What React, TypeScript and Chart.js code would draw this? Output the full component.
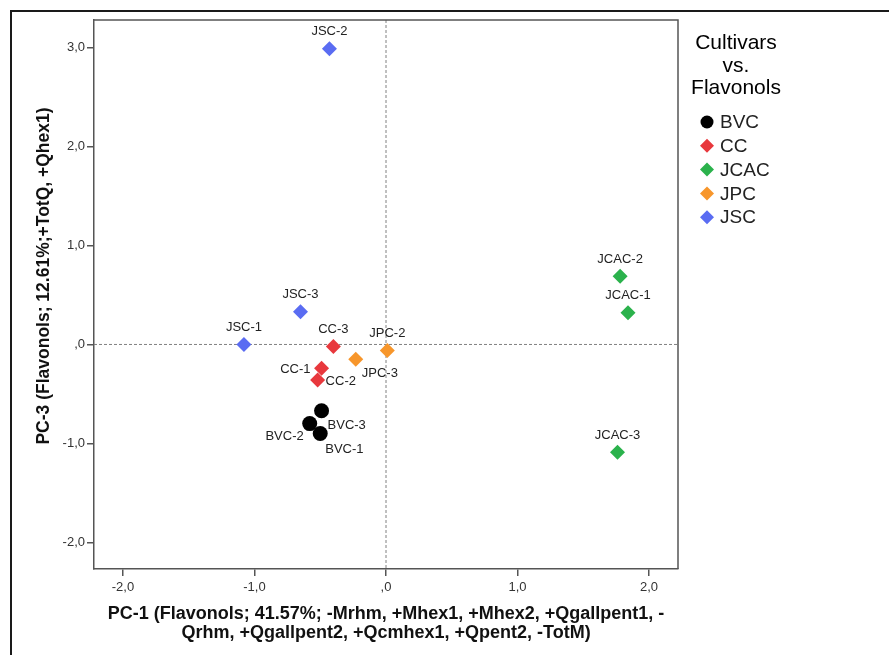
import React, { useEffect, useRef } from 'react';
import { Chart, registerables } from 'chart.js';

Chart.register(...registerables);

// ---- data ----
const cultivars = ['BVC', 'CC', 'JCAC', 'JPC', 'JSC'];

const bvcNames = ['BVC-1', 'BVC-2', 'BVC-3'];
const bvcPC1 = [-0.5, -0.58, -0.49];
const bvcPC3 = [-0.9, -0.8, -0.67];

const ccNames = ['CC-1', 'CC-2', 'CC-3'];
const ccPC1 = [-0.49, -0.52, -0.4];
const ccPC3 = [-0.24, -0.36, -0.02];

const jcacNames = ['JCAC-1', 'JCAC-2', 'JCAC-3'];
const jcacPC1 = [1.84, 1.78, 1.76];
const jcacPC3 = [0.32, 0.69, -1.09];

const jpcNames = ['JPC-2', 'JPC-3'];
const jpcPC1 = [0.01, -0.23];
const jpcPC3 = [-0.06, -0.15];

const jscNames = ['JSC-1', 'JSC-2', 'JSC-3'];
const jscPC1 = [-1.08, -0.43, -0.65];
const jscPC3 = [0.0, 2.99, 0.33];

const xTickValues = [-2, -1, 0, 1, 2];
const yTickValues = [-2, -1, 0, 1, 2, 3];

const xTitle = [
  'PC-1 (Flavonols; 41.57%; -Mrhm, +Mhex1, +Mhex2, +Qgallpent1, -',
  'Qrhm, +Qgallpent2, +Qcmhex1, +Qpent2, -TotM)',
];
const yTitle = 'PC-3 (Flavonols; 12.61%;+TotQ, +Qhex1)';
const legendTitle = ['Cultivars', 'vs.', 'Flavonols'];

// ---- styles ----
const FONT = '"Liberation Sans", Arial, sans-serif';
const colors = ['#000000', '#e8383d', '#2bb24c', '#f7962b', '#5a6cf2'];
const shapes = ['circle', 'rectRot', 'rectRot', 'rectRot', 'rectRot'];

// label placement relative to the point: [dx, dy, align]
const labelPlacement: Record<string, [number, number, CanvasTextAlign]> = {
  'BVC-1': [5, 16, 'left'],
  'BVC-2': [-6, 13, 'right'],
  'BVC-3': [6, 15, 'left'],
  'CC-1': [-11, 1, 'right'],
  'CC-2': [8, 1, 'left'],
  'JPC-3': [6, 14, 'left'],
};
const defaultPlacement: [number, number, CanvasTextAlign] = [0, -17, 'center'];

const fmt = (v: number) => {
  const s = Math.abs(v).toFixed(1).replace('.', ',');
  const t = s.startsWith('0') ? s.slice(1) : s;
  return (v < 0 ? '-' : '') + t;
};

const seriesNames = [bvcNames, ccNames, jcacNames, jpcNames, jscNames];
const seriesX = [bvcPC1, ccPC1, jcacPC1, jpcPC1, jscPC1];
const seriesY = [bvcPC3, ccPC3, jcacPC3, jpcPC3, jscPC3];

const decorPlugin = {
  id: 'decor',
  beforeDatasetsDraw(chart: any) {
    const { ctx, chartArea: a, scales } = chart;
    const x0 = scales.x.getPixelForValue(0);
    const y0 = scales.y.getPixelForValue(0);
    ctx.save();
    ctx.strokeStyle = '#808080';
    ctx.lineWidth = 1;
    ctx.setLineDash([3, 2]);
    ctx.beginPath();
    ctx.moveTo(x0, a.top);
    ctx.lineTo(x0, a.bottom);
    ctx.moveTo(a.left, y0);
    ctx.lineTo(a.right, y0);
    ctx.stroke();
    ctx.restore();
  },
  afterDraw(chart: any) {
    const { ctx, chartArea: a } = chart;
    ctx.save();
    // plot frame top/right
    ctx.strokeStyle = '#555';
    ctx.lineWidth = 1.5;
    ctx.beginPath();
    ctx.moveTo(a.left, a.top);
    ctx.lineTo(a.right, a.top);
    ctx.lineTo(a.right, a.bottom);
    ctx.stroke();
    // outer frame
    ctx.strokeStyle = '#1a1a1a';
    ctx.lineWidth = 2;
    ctx.beginPath();
    ctx.moveTo(11, chart.height);
    ctx.lineTo(11, 11);
    ctx.lineTo(chart.width, 11);
    ctx.stroke();

    // y axis title
    ctx.save();
    ctx.translate(44, 276);
    ctx.rotate(-Math.PI / 2);
    ctx.font = `bold 17.5px ${FONT}`;
    ctx.fillStyle = '#111';
    ctx.textAlign = 'center';
    ctx.textBaseline = 'middle';
    ctx.fillText(yTitle, 0, 0);
    ctx.restore();

    // point labels
    ctx.fillStyle = '#222';
    ctx.font = `13px ${FONT}`;
    ctx.textBaseline = 'middle';
    chart.data.datasets.forEach((ds: any, di: number) => {
      const meta = chart.getDatasetMeta(di);
      meta.data.forEach((el: any, i: number) => {
        const name = ds.names[i];
        const [dx, dy, al] = labelPlacement[name] || defaultPlacement;
        ctx.textAlign = al;
        ctx.fillText(name, el.x + dx, el.y + dy);
      });
    });

    // legend
    ctx.fillStyle = '#000';
    ctx.textAlign = 'center';
    ctx.font = `21px ${FONT}`;
    const titleY = [43, 66, 88];
    legendTitle.forEach((t, i) => ctx.fillText(t, 736, titleY[i]));
    ctx.textAlign = 'left';
    ctx.font = `19px ${FONT}`;
    cultivars.forEach((c, i) => {
      const y = 122 + i * 23.8;
      ctx.fillStyle = colors[i];
      ctx.beginPath();
      if (shapes[i] === 'circle') {
        ctx.arc(707, y, 6.5, 0, Math.PI * 2);
      } else {
        ctx.moveTo(707, y - 7);
        ctx.lineTo(714, y);
        ctx.lineTo(707, y + 7);
        ctx.lineTo(700, y);
        ctx.closePath();
      }
      ctx.fill();
      ctx.fillStyle = '#222';
      ctx.fillText(c, 720, y + 1);
    });
    ctx.restore();
  },
};

export default function App() {
  const ref = useRef<HTMLCanvasElement | null>(null);
  useEffect(() => {
    if (!ref.current) return;
    const datasets = cultivars.map((c, i) => ({
      label: c,
      names: seriesNames[i],
      data: seriesX[i].map((x, j) => ({ x, y: seriesY[i][j] })),
      backgroundColor: colors[i],
      borderColor: colors[i],
      borderWidth: 0,
      pointStyle: shapes[i],
      pointRadius: 7.5,
      pointHoverRadius: 7.5,
    }));
    const tickFont = { size: 13, family: FONT };
    const chart = new Chart(ref.current, {
      type: 'scatter',
      data: { datasets } as any,
      options: {
        responsive: false,
        animation: false,
        layout: { padding: { top: 20, right: 211, left: 0, bottom: 0 } },
        plugins: { legend: { display: false }, tooltip: { enabled: false } },
        scales: {
          x: {
            type: 'linear',
            min: -2.22,
            max: 2.22,
            afterFit: (s: any) => {
              s.height = 86;
            },
            afterBuildTicks: (s: any) => {
              s.ticks = xTickValues.map((v) => ({ value: v }));
            },
            ticks: { callback: (v: any) => fmt(Number(v)), font: tickFont, color: '#333', padding: 4, maxRotation: 0 },
            grid: { drawOnChartArea: false, tickLength: 7, color: '#555', lineWidth: 1.5 },
            border: { color: '#555', width: 1.5 },
            title: {
              display: true,
              text: xTitle,
              font: { size: 18, weight: 'bold', family: FONT, lineHeight: 1.05 },
              color: '#111',
              padding: { top: 0, bottom: 13 },
            },
          },
          y: {
            type: 'linear',
            min: -2.27,
            max: 3.28,
            afterFit: (s: any) => {
              s.width = 94;
            },
            afterBuildTicks: (s: any) => {
              s.ticks = yTickValues.map((v) => ({ value: v }));
            },
            ticks: { callback: (v: any) => fmt(Number(v)), font: tickFont, color: '#333', padding: 2 },
            grid: { drawOnChartArea: false, tickLength: 7, color: '#555', lineWidth: 1.5 },
            border: { color: '#555', width: 1.5 },
            title: { display: false, text: yTitle },
          },
        },
      } as any,
      plugins: [decorPlugin],
    });
    return () => chart.destroy();
  }, []);
  return (
    <div style={{ position: 'absolute', left: 0, top: 0, width: 889, height: 655, background: '#fff' }}>
      <canvas ref={ref} width={889} height={655} style={{ display: 'block' }} />
    </div>
  );
}
